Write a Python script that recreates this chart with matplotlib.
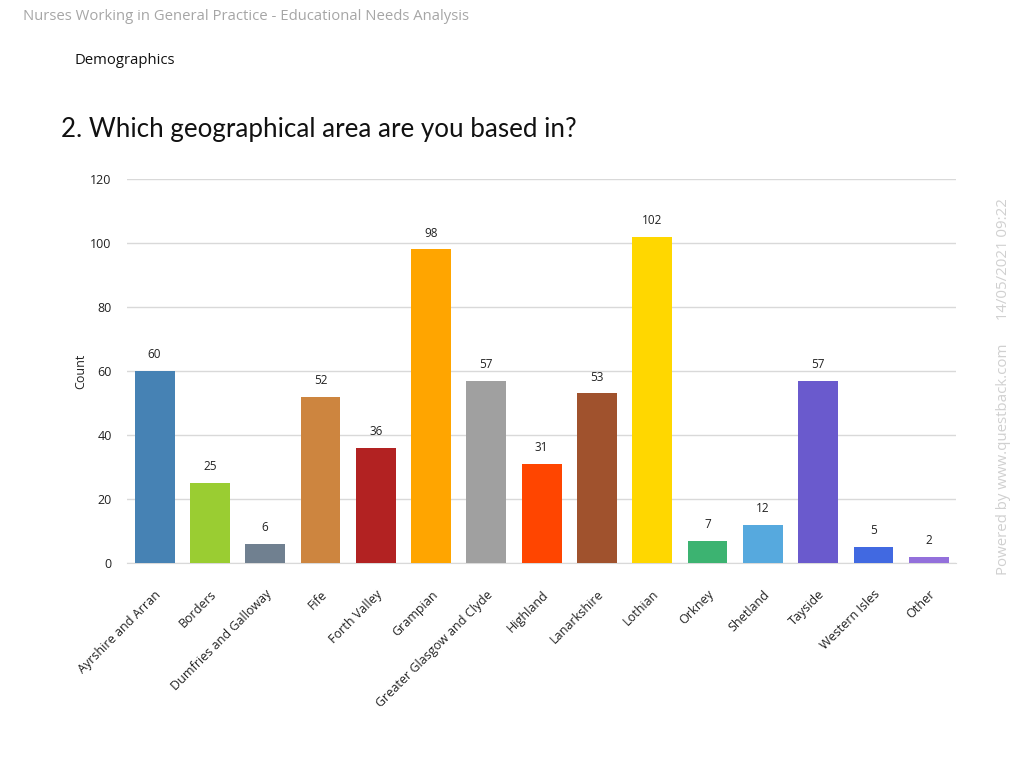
import matplotlib.pyplot as plt

areas = ["Ayrshire and Arran", "Borders", "Dumfries and Galloway", "Fife",
         "Forth Valley", "Grampian", "Greater Glasgow and Clyde", "Highland",
         "Lanarkshire", "Lothian", "Orkney", "Shetland", "Tayside",
         "Western Isles", "Other"]
counts = [60, 25, 6, 52, 36, 98, 57, 31, 53, 102, 7, 12, 57, 5, 2]
colors = ["#4682B4", "#9ACD32", "#708090", "#CD853F", "#B22222", "#FFA500",
          "#A0A0A0", "#FF4500", "#A0522D", "#FFD700", "#3CB371", "#56A9DE",
          "#6A5ACD", "#4169E1", "#9370DB"]
yticks = [0, 20, 40, 60, 80, 100, 120]

plt.rcParams["font.family"] = ["Open Sans", "DejaVu Sans"]

fig = plt.figure(figsize=(10.24, 7.68), dpi=100)
ax = fig.add_axes([0.124, 0.267, 0.81, 0.5])

x = list(range(len(areas)))
ax.bar(x, counts, width=0.72, color=colors, zorder=3)
for xi, v in zip(x, counts):
    ax.text(xi, v + 3, str(v), ha="center", va="bottom", fontsize=8.5, color="#222222")

ax.set_xlim(-0.5, len(areas) - 0.5)
ax.set_ylim(0, 120)
ax.set_yticks(yticks)
ax.grid(axis="y", color="#d9d9d9", linewidth=1, zorder=0)
ax.tick_params(length=0, labelsize=9, colors="#222222")
ax.tick_params(axis="y", pad=11)
ax.set_xticks(x)
ax.set_xticklabels(areas, rotation=45, ha="right", rotation_mode="anchor", fontsize=9)
ax.tick_params(axis="x", pad=18)
for s in ["top", "right", "left"]:
    ax.spines[s].set_visible(False)
ax.spines["bottom"].set_color("#d9d9d9")
ax.set_ylabel("Count", fontsize=9, color="#222222", labelpad=2)

fig.text(0.022, 0.979, "Nurses Working in General Practice - Educational Needs Analysis",
         fontsize=10.7, color="#a6a6a6", va="center")
fig.text(0.073, 0.921, "Demographics", fontsize=10.7, color="#111111", va="center")
fig.text(0.06, 0.831, "2. Which geographical area are you based in?",
         fontsize=18.7, color="#111111", va="center", family=["Lato", "DejaVu Sans"])
fig.text(0.98, 0.497, "Powered by www.questback.com      14/05/2021 09:22",
         rotation=90, fontsize=10.8, color="#d0d0d0", ha="center", va="center")

fig.savefig("out.png", dpi=100)
